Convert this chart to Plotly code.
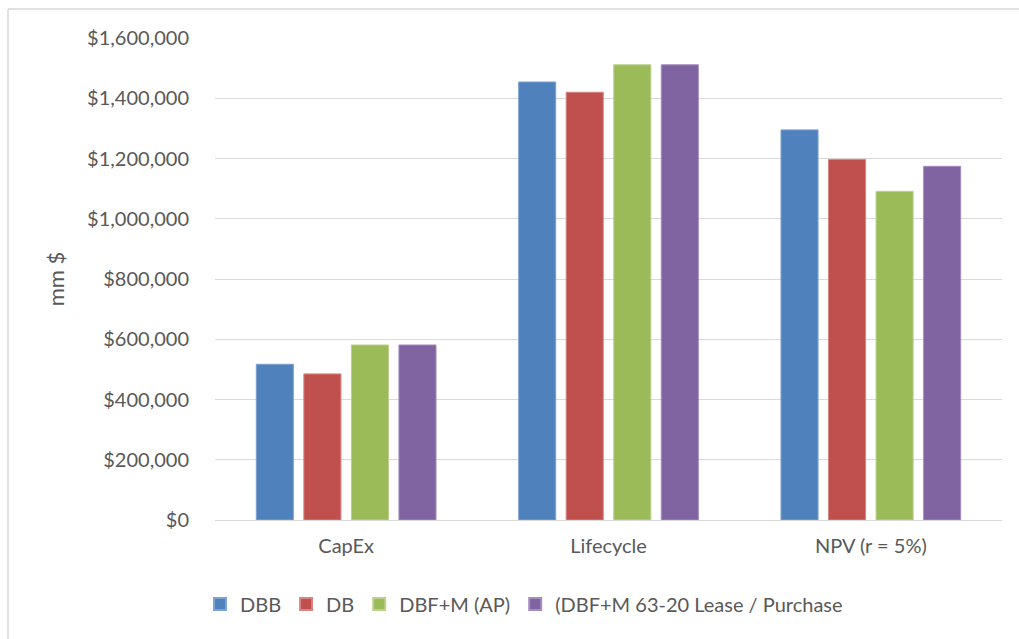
import plotly.graph_objects as go

categories = ["CapEx", "Lifecycle", "NPV (r = 5%)"]
series_names = ["DBB", "DB", "DBF+M (AP)", "(DBF+M 63-20 Lease / Purchase"]
dbb = [517000, 1454000, 1295000]
db = [485000, 1420000, 1197000]
dbfm_ap = [581000, 1511000, 1091000]
dbfm_lease = [581000, 1511000, 1174000]

y_ticks = [0, 200000, 400000, 600000, 800000, 1000000, 1200000, 1400000, 1600000]
y_tick_text = ["$0", "$200,000", "$400,000", "$600,000", "$800,000",
               "$1,000,000", "$1,200,000", "$1,400,000", "$1,600,000"]

colors = ["#4F81BD", "#C0504D", "#9BBB59", "#8064A2"]
edge_colors = ["#7FA3D1", "#D68583", "#BBD18E", "#A48DBF"]

W, H = 1019, 639
L, R, T, B = 215, 17, 38, 119
pw, ph = W - L - R, H - T - B

fig = go.Figure()
for name, vals, c, ec in zip(series_names, [dbb, db, dbfm_ap, dbfm_lease], colors, edge_colors):
    fig.add_trace(go.Bar(
        x=categories, y=vals, name=name,
        marker=dict(color=c, line=dict(color=ec, width=1)),
    ))

font_family = "Lato, 'Open Sans', Arial, sans-serif"
text_color = "#595959"

# chart frame (left and top edges)
def px_x(x):
    return (x - L) / pw

def px_y(y):
    return (H - B - y) / ph

frame = dict(color="#D9D9D9", width=1.5)
fig.add_shape(type="line", xref="paper", yref="paper",
              x0=px_x(8), x1=px_x(8), y0=px_y(9), y1=px_y(H + 5), line=frame)
fig.add_shape(type="line", xref="paper", yref="paper",
              x0=px_x(8), x1=px_x(W + 5), y0=px_y(9), y1=px_y(9), line=frame)

fig.update_layout(
    width=W, height=H,
    margin=dict(l=L, r=R, t=T, b=B),
    paper_bgcolor="white", plot_bgcolor="white",
    barmode="group", bargap=0.275, bargroupgap=0.22,
    font=dict(family=font_family, color=text_color, size=20),
    showlegend=True,
    legend=dict(orientation="h", x=px_x(524), xanchor="center",
                y=px_y(604), yanchor="middle",
                font=dict(size=20, color=text_color),
                itemsizing="constant", traceorder="normal",
                entrywidthmode="pixels"),
    xaxis=dict(showgrid=False, showline=False, zeroline=False,
               ticks="outside", ticklen=8, tickcolor="rgba(0,0,0,0)",
               tickfont=dict(size=20, color=text_color)),
    yaxis=dict(range=[0, 1600000], tickvals=y_ticks, ticktext=y_tick_text,
               showgrid=True, gridcolor="#D9D9D9", gridwidth=1,
               zeroline=True, zerolinecolor="#D9D9D9", zerolinewidth=1,
               showline=False,
               ticks="outside", ticklen=21, tickcolor="rgba(0,0,0,0)",
               tickfont=dict(size=20, color=text_color),
               title=dict(text="mm $", font=dict(size=22, color=text_color),
                          standoff=16)),
)

fig.write_html("out.html")
